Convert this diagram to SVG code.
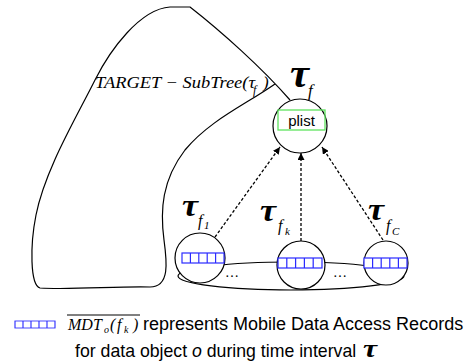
<svg xmlns="http://www.w3.org/2000/svg" xmlns:xlink="http://www.w3.org/1999/xlink" width="469" height="364" viewBox="0 0 469 364">
<style>
.ln{fill:none;stroke:#000;stroke-width:1.2}
.nd{fill:#fff;stroke:#000;stroke-width:1.2}
.ar{fill:none;stroke:#000;stroke-width:1.3;stroke-dasharray:3,2;marker-end:url(#ah)}
.m{font-family:"Liberation Serif","Times New Roman",serif;font-style:italic;fill:#000}
.t{font-family:"Liberation Serif","Times New Roman",serif;font-style:italic;font-weight:bold;fill:#000}
.s{font-family:"Liberation Sans",Arial,sans-serif;fill:#000}
.bar{fill:#fff;stroke:#2a2aff;stroke-width:1.2}
</style>
<defs>
<marker id="ah" viewBox="0 0 10 10" refX="10" refY="5" markerWidth="7" markerHeight="7" orient="auto" markerUnits="userSpaceOnUse">
<path d="M0,0 L10,5 L0,10 z" fill="#000"/>
</marker>
<g id="bar">
<rect class="bar" x="0" y="0" width="43" height="10"/>
<path class="bar" d="M8.6,0V10M17.2,0V10M25.8,0V10M34.4,0V10"/>
</g>
</defs>
<g id="subtree">
<path class="ln" d="M290,100 C262,68 222,32 190,7 L170,7 C140,9 110,50 95,80 C75,120 45,170 36,215 C30,245 30,285 40,288 C70,290 120,286 150,287 C170,287 167,262 164,240 C160,210 162,180 185,150 C210,120 245,105 275,84"/>
<text class="m" font-size="17" x="95" y="88" textLength="160" lengthAdjust="spacingAndGlyphs">TARGET − SubTree(τ</text>
<text class="m" font-size="12" x="253" y="94">f</text>
<text class="m" font-size="17" x="263" y="88">)</text>
</g>
<g id="group-ellipse">
<ellipse class="ln" cx="291" cy="276" rx="113" ry="14"/>
<text class="m" font-size="14" x="226" y="277">…</text>
<text class="m" font-size="14" x="334" y="277">…</text>
</g>
<g id="connectors">
<line class="ar" x1="215" y1="237" x2="280" y2="147"/>
<line class="ar" x1="301" y1="241" x2="301" y2="153"/>
<line class="ar" x1="383" y1="240" x2="322" y2="147"/>
</g>
<g id="root">
<circle class="nd" cx="300" cy="126" r="27"/>
<rect x="278" y="110" width="47" height="20" fill="none" stroke="#5ee35e" stroke-width="1.3"/>
<text class="s" font-size="15" x="301.5" y="126" text-anchor="middle">plist</text>
<text class="t" font-size="40" x="290" y="87" textLength="19" lengthAdjust="spacingAndGlyphs">τ</text>
<text class="m" font-size="17" x="308" y="96">f</text>
</g>
<g id="child1">
<circle class="nd" cx="200" cy="258" r="25"/>
<use xlink:href="#bar" transform="translate(182,253) scale(0.977,1)"/>
<text class="t" font-size="32" x="182" y="216" textLength="16" lengthAdjust="spacingAndGlyphs">τ</text>
<text class="m" font-size="16" x="198" y="226">f</text>
<text class="m" font-size="11" x="204" y="229" font-style="normal">1</text>
</g>
<g id="childk">
<circle class="nd" cx="301" cy="265" r="24"/>
<use xlink:href="#bar" transform="translate(278,258) scale(1.023,1)"/>
<text class="t" font-size="32" x="260" y="221" textLength="16" lengthAdjust="spacingAndGlyphs">τ</text>
<text class="m" font-size="16" x="278" y="231">f</text>
<text class="m" font-size="11" x="285" y="235">k</text>
</g>
<g id="childC">
<circle class="nd" cx="386" cy="263" r="22"/>
<use xlink:href="#bar" transform="translate(364,258)"/>
<text class="t" font-size="32" x="368" y="220" textLength="16" lengthAdjust="spacingAndGlyphs">τ</text>
<text class="m" font-size="16" x="386" y="231">f</text>
<text class="m" font-size="11" x="392" y="235">C</text>
</g>
<g id="legend">
<g transform="translate(15,321) scale(0.93,0.7)"><use xlink:href="#bar"/></g>
<line x1="67" y1="315" x2="140" y2="315" stroke="#000" stroke-width="1"/>
<text class="m" font-size="16" x="68" y="330">MDT</text>
<text class="m" font-size="10" x="104" y="333">o</text>
<text class="m" font-size="16" x="110" y="330">(</text>
<text class="m" font-size="16" x="117" y="330">f</text>
<text class="m" font-size="10" x="124" y="333">k</text>
<text class="m" font-size="16" x="133" y="330">)</text>
<text class="s" font-size="18" x="143" y="330">represents Mobile Data Access Records</text>
<text class="s" font-size="17.7" x="75" y="357">for data object <tspan font-style="italic">o</tspan> during time interval </text>
<text class="t" font-size="26" x="363" y="357" textLength="14" lengthAdjust="spacingAndGlyphs">τ</text>
</g>
</svg>
